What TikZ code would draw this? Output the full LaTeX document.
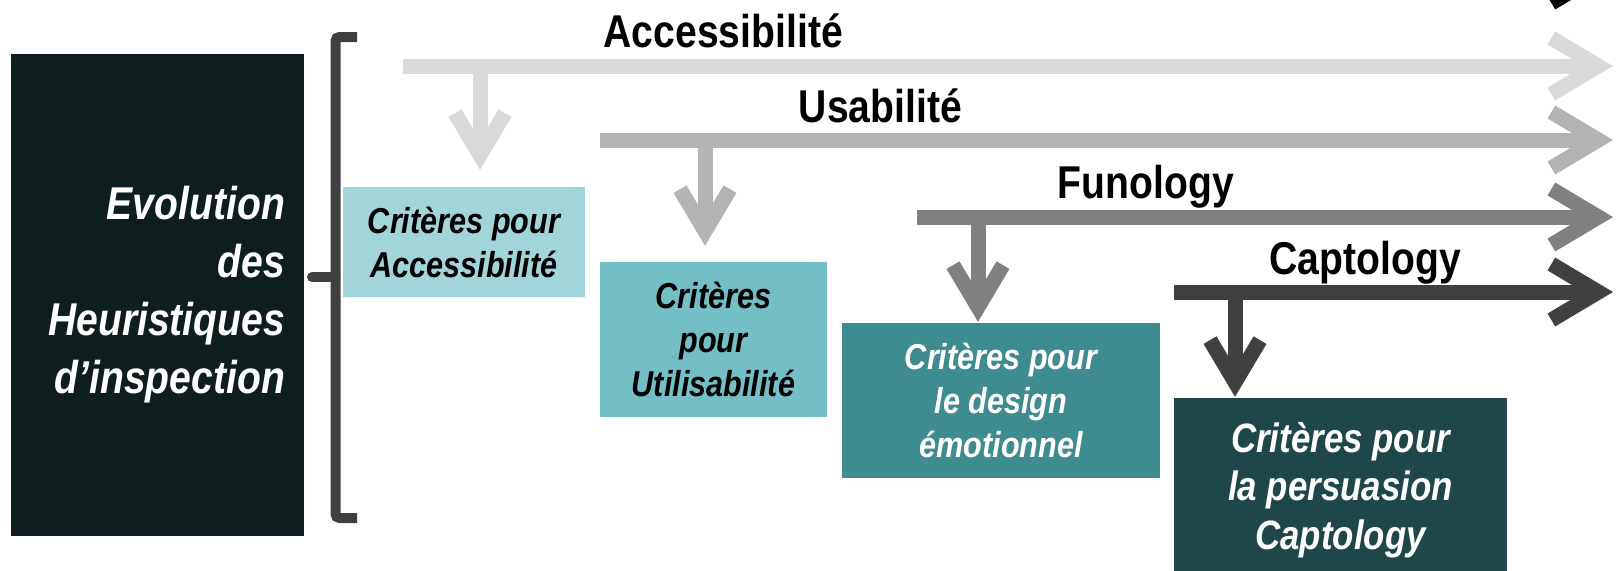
\documentclass[tikz,border=0pt]{standalone}
\usepackage{fontspec}
\newfontfamily\narrowfont[FakeStretch=0.85]{Liberation Sans}
\usetikzlibrary{arrows.meta, positioning}

\definecolor{inkblack}{HTML}{0E1D1D}
\definecolor{grayA}{HTML}{D9D9D9}
\definecolor{grayB}{HTML}{B3B3B3}
\definecolor{grayC}{HTML}{808080}
\definecolor{grayD}{HTML}{404040}
\definecolor{tealA}{HTML}{A1D5D9}
\definecolor{tealB}{HTML}{73BFC5}
\definecolor{tealC}{HTML}{3E8B90}
\definecolor{tealD}{HTML}{1F4749}

\begin{document}
\begin{tikzpicture}[x=1pt, y=-1pt,
every node/.style = {inner sep=0pt, align=center,
                     font=\narrowfont\bfseries\itshape\fontsize{36}{44}\selectfont},
stage/.style = {anchor=base east,
                font=\narrowfont\bfseries\fontsize{46}{55}\selectfont},
bar/.style   = {line width=15pt,
                -{Straight Barb[length=47pt, width=56pt, line join=miter]}},
drop/.style  = {line width=15pt,
                -{Straight Barb[length=42pt, width=50pt, line join=miter]}},
brace/.style = {draw=grayD, line width=10pt, rounded corners=4pt},
                    ]
%---
\useasboundingbox (0,0) rectangle (1619,570);

\node (evol) [fill=inkblack, text=white, minimum width=293pt, minimum height=482pt,
              text width=255pt, align=right,
              font=\narrowfont\bfseries\itshape\fontsize{46}{58}\selectfont]
              at (157.5,295) {Evolution\\des\\Heuristiques\\d’inspection};

\node (crit_acc) [fill=tealA, minimum width=242pt, minimum height=110pt]
              at (464,242) {Critères pour\\Accessibilité};
\node (crit_usa) [fill=tealB, minimum width=227pt, minimum height=155pt]
              at (713.5,339.5) {Critères\\pour\\Utilisabilité};
\node (crit_fun) [fill=tealC, text=white, minimum width=318pt, minimum height=155pt]
              at (1001,400.5) {Critères pour\\le design\\émotionnel};
\node (crit_cap) [fill=tealD, text=white, minimum width=333pt, minimum height=184pt,
              font=\narrowfont\bfseries\itshape\fontsize{41}{48.5}\selectfont]
              at (1340.5,490) {Critères pour\\la persuasion\\Captology};

\node (acc) [stage] at (843,47)  {Accessibilité};
\node (usa) [stage] at (962,122) {Usabilité};
\node (fun) [stage] at (1234,198) {Funology};
\node (cap) [stage] at (1461,274) {Captology};

% bracket
\draw[brace] (357,37) -- (335.5,37) -- (335.5,518) -- (357,518);
\draw[brace, line cap=round] (335.5,277) -- (312,277);

% arrows
\coordinate (acc_s) at (403,66);    \coordinate (acc_e) at (1613,66);
\coordinate (usa_s) at (600,140);   \coordinate (usa_e) at (1613,140);
\coordinate (fun_s) at (917,217);   \coordinate (fun_e) at (1613,217);
\coordinate (cap_s) at (1174,292);  \coordinate (cap_e) at (1613,292);
\coordinate (nxt_s) at (1400,-25);  \coordinate (nxt_e) at (1613,-25);

\coordinate (acc_d) at (480,66);
\coordinate (usa_d) at (705,140);
\coordinate (fun_d) at (978,217);
\coordinate (cap_d) at (1235,292);

\path[bar]
        (acc_s) edge[grayA] (acc_e)
        (usa_s) edge[grayB] (usa_e)
        (fun_s) edge[grayC] (fun_e)
        (cap_s) edge[grayD] (cap_e)
        (nxt_s) edge[black] (nxt_e);

\path[drop]
        (acc_d) edge[grayA] ([yshift=17pt]crit_acc.north -| acc_d)
        (usa_d) edge[grayB] ([yshift=16pt]crit_usa.north -| usa_d)
        (fun_d) edge[grayC] ([yshift=1pt]crit_fun.north -| fun_d)
        (cap_d) edge[grayD] ([yshift=1pt]crit_cap.north -| cap_d);
\end{tikzpicture}
\end{document}
